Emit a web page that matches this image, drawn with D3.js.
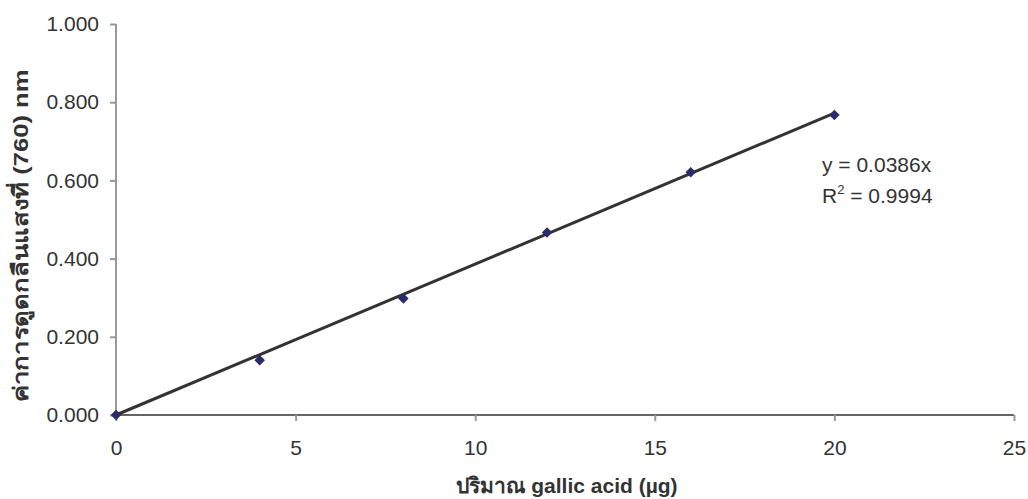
<!DOCTYPE html>
<html>
<head>
<meta charset="utf-8">
<script src="https://cdn.jsdelivr.net/npm/d3@7"></script>
<style>
  body { margin: 0; background: #fff; }
  text { font-family: "Liberation Sans", Arial, sans-serif; fill: #333; }
</style>
</head>
<body>
<div id="chart"></div>
<script>
// data
const xValues = [0, 4, 8, 12, 16, 20];
const yValues = [0, 0.140, 0.298, 0.467, 0.621, 0.767];
const slope = 0.0386;
const xTicks = [0, 5, 10, 15, 20, 25];
const yTicks = [0, 0.2, 0.4, 0.6, 0.8, 1.0];
const equationLines = ["y = 0.0386x", "R2 = 0.9994"];

const width = 1028, height = 499;
const m = { left: 116, right: 14, top: 24, bottom: 84 };
const fs = 21;

const svg = d3.select("#chart").append("svg")
  .attr("width", width)
  .attr("height", height);

const x = d3.scaleLinear().domain([0, 25]).range([m.left, width - m.right]);
const y = d3.scaleLinear().domain([0, 1]).range([height - m.bottom, m.top]);

// y axis
const yAxis = svg.append("g")
  .attr("transform", `translate(${m.left},0)`)
  .call(d3.axisLeft(y).tickValues(yTicks).tickFormat(d3.format(".3f")).tickSize(6).tickPadding(11));
yAxis.select(".domain").attr("stroke", "#999").attr("stroke-width", 2).attr("d", `M0,${y(1)}V${y(0)}`);
yAxis.selectAll(".tick line").attr("stroke", "#999").attr("stroke-width", 2);
yAxis.selectAll(".tick text").attr("font-size", fs).style("fill", "#333");

// x axis
const xAxis = svg.append("g")
  .attr("transform", `translate(0,${y(0)})`)
  .call(d3.axisBottom(x).tickValues(xTicks).tickSize(6).tickPadding(19));
xAxis.select(".domain").attr("stroke", "#333").attr("stroke-width", 1.5).attr("d", `M${x(0)},0H${x(25)}`);
xAxis.selectAll(".tick line").attr("stroke", "#999").attr("stroke-width", 2);
xAxis.selectAll(".tick text").attr("font-size", fs).style("fill", "#333");

// trend line
svg.append("line")
  .attr("x1", x(0)).attr("y1", y(0))
  .attr("x2", x(20)).attr("y2", y(slope * 20))
  .attr("stroke", "#333")
  .attr("stroke-width", 3);

// markers
const pts = xValues.map((v, i) => ({ x: v, y: yValues[i] }));
svg.append("g").selectAll("path")
  .data(pts)
  .enter().append("path")
  .attr("d", d3.symbol().type(d3.symbolDiamond2).size(70))
  .attr("transform", d => `translate(${x(d.x)},${y(d.y)})`)
  .attr("fill", "#2b2b6b");

// equation
const eq = svg.append("g").attr("font-size", fs);
eq.append("text").attr("x", 822).attr("y", 172).text(equationLines[0]);
const r2 = eq.append("text").attr("x", 822).attr("y", 203);
r2.append("tspan").text("R");
r2.append("tspan").attr("font-size", 13).attr("dy", -9).text("2");
r2.append("tspan").attr("dy", 9).text(" = 0.9994");

// axis titles
svg.append("text")
  .attr("x", 567).attr("y", 493)
  .attr("text-anchor", "middle")
  .attr("font-size", fs).attr("font-weight", "bold")
  .text("ปริมาณ gallic acid (µg)");

svg.append("text")
  .attr("transform", `translate(28,236) rotate(-90)`)
  .attr("text-anchor", "middle")
  .attr("font-size", fs).attr("font-weight", "bold")
  .attr("textLength", 333).attr("lengthAdjust", "spacingAndGlyphs")
  .text("ค่าการดูดกลืนแสงที่ (760) nm");
</script>
</body>
</html>
